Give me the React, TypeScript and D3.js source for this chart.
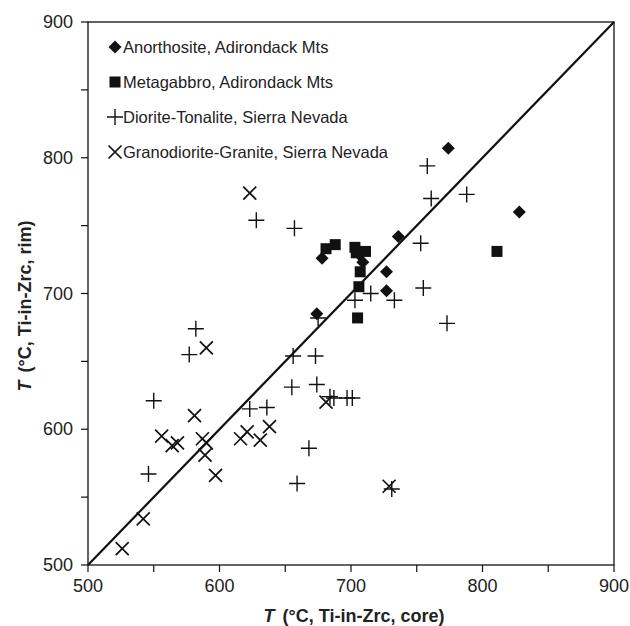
import * as d3 from "d3";
import { useRef, useEffect } from "react";

// Ti-in-zircon temperatures, core (x) vs rim (y), °C
const anorthosite: [number, number][] = [
  [774, 807], [828, 760], [736, 742], [678, 726], [709, 723],
  [706, 729], [727, 716], [727, 702], [674, 685],
];
const metagabbro: [number, number][] = [
  [681, 733], [688, 736], [703, 734], [704, 730], [711, 731],
  [707, 716], [706, 705], [705, 682], [811, 731],
];
const dioriteTonalite: [number, number][] = [
  [758, 794], [761, 770], [788, 773], [753, 737], [755, 704], [773, 678],
  [628, 754], [657, 748], [703, 695], [715, 700], [733, 695], [675, 682],
  [582, 674], [577, 655], [656, 654], [673, 654], [655, 631], [674, 633],
  [684, 624], [687, 623], [697, 623], [701, 623], [550, 621], [623, 615],
  [636, 616], [668, 586], [546, 567], [659, 560], [731, 556],
];
const granodioriteGranite: [number, number][] = [
  [623, 774], [590, 660], [581, 610], [556, 595], [564, 588], [568, 590],
  [587, 593], [590, 590], [589, 581], [597, 566], [616, 593], [621, 598],
  [631, 592], [638, 602], [681, 620], [729, 558], [542, 534], [526, 512],
];
const legendLabels = [
  "Anorthosite, Adirondack Mts",
  "Metagabbro, Adirondack Mts",
  "Diorite-Tonalite, Sierra Nevada",
  "Granodiorite-Granite, Sierra Nevada",
];
const majorTicks = [500, 600, 700, 800, 900];
const minorTicks = [550, 650, 750, 850];

const INK = "#111";

function drawMarker(g: d3.Selection<SVGGElement, unknown, null, undefined>, kind: number, x: number, y: number) {
  if (kind === 0) {
    const r = 6.5;
    g.append("path").attr("d", `M${x},${y - r}L${x + r},${y}L${x},${y + r}L${x - r},${y}Z`).attr("fill", INK);
  } else if (kind === 1) {
    const s = 11;
    g.append("rect").attr("x", x - s / 2).attr("y", y - s / 2).attr("width", s).attr("height", s).attr("fill", INK);
  } else if (kind === 2) {
    const a = 8;
    g.append("path").attr("d", `M${x - a},${y}H${x + a}M${x},${y - a}V${y + a}`).attr("stroke", INK).attr("stroke-width", 1.4).attr("fill", "none");
  } else {
    const a = 6.5;
    g.append("path").attr("d", `M${x - a},${y - a}L${x + a},${y + a}M${x - a},${y + a}L${x + a},${y - a}`).attr("stroke", INK).attr("stroke-width", 1.7).attr("fill", "none");
  }
}

export default function App() {
  const ref = useRef<SVGSVGElement>(null);

  useEffect(() => {
    const svg = d3.select(ref.current!);
    svg.selectAll("*").remove();
    const font = "Liberation Sans, Arial, sans-serif";

    const x = d3.scaleLinear().domain([500, 900]).range([88, 614]);
    const y = d3.scaleLinear().domain([500, 900]).range([565, 22]);

    // frame
    svg.append("rect").attr("x", 88).attr("y", 22).attr("width", 526).attr("height", 543)
      .attr("fill", "none").attr("stroke", INK).attr("stroke-width", 1.3);

    // ticks
    const allTicks = majorTicks.concat(minorTicks);
    svg.append("g").selectAll("line").data(allTicks).join("line")
      .attr("x1", (d) => x(d)).attr("x2", (d) => x(d)).attr("y1", 565).attr("y2", 572)
      .attr("stroke", INK).attr("stroke-width", 1.2);
    svg.append("g").selectAll("line").data(allTicks).join("line")
      .attr("y1", (d) => y(d)).attr("y2", (d) => y(d)).attr("x1", 81).attr("x2", 88)
      .attr("stroke", INK).attr("stroke-width", 1.2);

    svg.append("g").selectAll("text").data(majorTicks).join("text")
      .attr("x", (d) => x(d)).attr("y", 592).attr("text-anchor", "middle")
      .attr("font-family", font).attr("font-size", 18).attr("fill", "#222").text((d) => d);
    svg.append("g").selectAll("text").data(majorTicks).join("text")
      .attr("x", 73).attr("y", (d) => y(d) + 6).attr("text-anchor", "end")
      .attr("font-family", font).attr("font-size", 18).attr("fill", "#222").text((d) => d);

    // 1:1 line
    svg.append("line").attr("x1", x(500)).attr("y1", y(500)).attr("x2", x(900)).attr("y2", y(900))
      .attr("stroke", INK).attr("stroke-width", 2.2);

    const g = svg.append("g");
    const series = [anorthosite, metagabbro, dioriteTonalite, granodioriteGranite];
    series.forEach((pts, k) => pts.forEach(([cx, cy]) => drawMarker(g, k, x(cx), y(cy))));

    // legend
    const lg = svg.append("g");
    legendLabels.forEach((label, i) => {
      const ly = 47 + i * 35;
      drawMarker(lg, i, 115, ly);
      lg.append("text").attr("x", 123).attr("y", ly + 6).attr("font-family", font)
        .attr("font-size", 16.5).attr("fill", "#222").text(label);
    });

    // axis titles
    const xt = svg.append("text").attr("x", 354).attr("y", 622).attr("text-anchor", "middle")
      .attr("font-family", font).attr("font-size", 18).attr("font-weight", "bold").attr("fill", "#222")
      .attr("xml:space", "preserve");
    xt.append("tspan").attr("font-style", "italic").text("T");
    xt.append("tspan").attr("dx", 8).text("(°C, Ti-in-Zrc, core)");

    const yt = svg.append("text").attr("transform", "translate(31,306) rotate(-90)").attr("text-anchor", "middle")
      .attr("font-family", font).attr("font-size", 18).attr("font-weight", "bold").attr("fill", "#222");
    yt.append("tspan").attr("font-style", "italic").text("T");
    yt.append("tspan").attr("dx", 8).text("(°C, Ti-in-Zrc, rim)");
  }, []);

  return (
    <div style={{ position: "absolute", left: 0, top: 0 }}>
      <svg ref={ref} width={630} height={626} style={{ display: "block", background: "#fff" }} />
    </div>
  );
}
